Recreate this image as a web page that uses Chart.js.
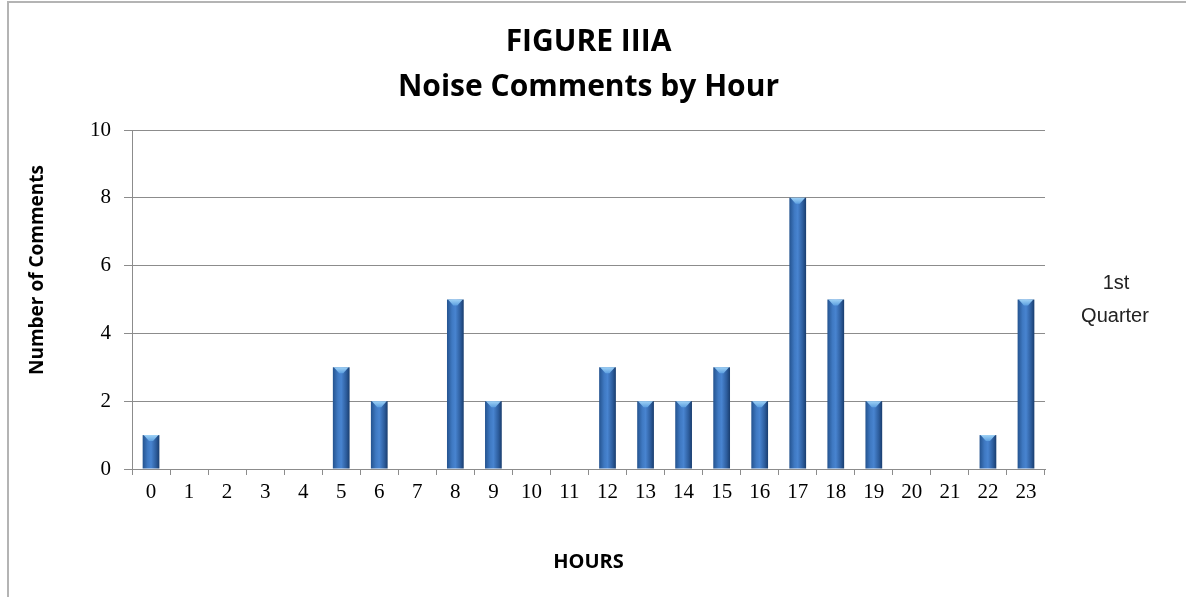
<!DOCTYPE html>
<html lang="en">
<head>
  <meta charset="UTF-8">
  <title>Figure IIIA - Noise Comments by Hour</title>
  <script src="https://cdn.jsdelivr.net/npm/chart.js"></script>
  <style>
    html, body {
      margin: 0;
      padding: 0;
      background: #fff;
    }
    #wrap {
      width: 1186px;
      height: 597px;
      position: relative;
    }
  </style>
</head>
<body>
  <div id="wrap">
    <canvas id="chart"></canvas>
  </div>

  <script>
    // data
    const hours = ['0','1','2','3','4','5','6','7','8','9','10','11','12','13','14','15','16','17','18','19','20','21','22','23'];
    const comments = [1, 0, 0, 0, 0, 3, 2, 0, 5, 2, 0, 0, 3, 2, 2, 3, 2, 8, 5, 2, 0, 0, 1, 5];
    const seriesName = ['1st', 'Quarter'];
    const titleLines = ['FIGURE IIIA', 'Noise Comments by Hour'];
    const yTitle = 'Number of Comments';
    const xTitle = 'HOURS';

    const BAR_PCT = 0.44;

    // horizontal shading across each bar, like the old office 3d look
    function barFill(ctx) {
      const chart = ctx.chart;
      const xs = chart.scales.x;
      if (!xs || ctx.dataIndex === undefined) return '#2f65ad';
      const cx = xs.getPixelForValue(ctx.dataIndex);
      const w = (xs.width / hours.length) * BAR_PCT;
      if (!isFinite(cx) || !isFinite(w) || w <= 0) return '#2f65ad';
      const g = chart.ctx.createLinearGradient(cx - w / 2, 0, cx + w / 2, 0);
      g.addColorStop(0, '#24538f');
      g.addColorStop(0.3, '#3f79c2');
      g.addColorStop(0.5, '#4884d0');
      g.addColorStop(0.8, '#2d5d9d');
      g.addColorStop(1, '#193d6e');
      return g;
    }

    const decor = {
      id: 'decor',
      beforeDraw(chart) {
        const c = chart.ctx;
        c.save();
        c.fillStyle = '#fff';
        c.fillRect(0, 0, chart.width, chart.height);
        // frame (left + top edge visible)
        c.strokeStyle = '#b4b4b4';
        c.lineWidth = 2;
        c.beginPath();
        c.moveTo(8, chart.height);
        c.lineTo(8, 2);
        c.lineTo(chart.width, 2);
        c.stroke();
        c.restore();
      },
      afterDatasetsDraw(chart) {
        const c = chart.ctx;
        const meta = chart.getDatasetMeta(0);
        c.save();
        meta.data.forEach((bar, i) => {
          if (!comments[i]) return;
          const { x, y, width } = bar.getProps(['x', 'y', 'width'], true);
          if (!isFinite(x) || !isFinite(y)) return;
          const l = x - width / 2, r = x + width / 2;
          const g = c.createLinearGradient(0, y, 0, y + 6);
          g.addColorStop(0, '#9fd2f6');
          g.addColorStop(1, '#5c9fe0');
          c.fillStyle = g;
          c.beginPath();
          c.moveTo(l + 1, y);
          c.lineTo(r - 1, y);
          c.lineTo(x + 2, y + 6);
          c.lineTo(x - 2, y + 6);
          c.closePath();
          c.fill();
        });
        c.restore();
      },
      afterDraw(chart) {
        const c = chart.ctx;
        c.save();
        // y axis title, sits a bit above centre in the original
        c.translate(38, 270);
        c.rotate(-Math.PI / 2);
        c.font = 'bold 19px "Open Sans"';
        c.fillStyle = '#000';
        c.textAlign = 'center';
        c.textBaseline = 'middle';
        c.fillText(yTitle, 0, 0);
        c.restore();

        // series label on the right
        c.save();
        c.font = '20px "Liberation Sans"';
        c.fillStyle = '#222';
        c.textAlign = 'center';
        c.textBaseline = 'middle';
        c.fillText(seriesName[0], 1116, 283);
        c.fillText(seriesName[1], 1115, 316);
        c.restore();
      }
    };

    new Chart(document.getElementById('chart'), {
      type: 'bar',
      data: {
        labels: hours,
        datasets: [{
          label: seriesName.join(' '),
          data: comments,
          backgroundColor: barFill,
          borderWidth: 0,
          barPercentage: BAR_PCT,
          categoryPercentage: 1
        }]
      },
      options: {
        responsive: true,
        maintainAspectRatio: false,
        animation: false,
        layout: { padding: { left: 0, right: 141, top: 0, bottom: 0 } },
        plugins: {
          legend: { display: false },
          tooltip: { enabled: false },
          title: {
            display: true,
            fullSize: false,
            text: titleLines,
            color: '#000',
            font: { family: '"Open Sans"', size: 30, weight: 'bold', lineHeight: 1.5 },
            padding: { top: 20, bottom: 20 }
          }
        },
        scales: {
          x: {
            offset: true,
            grid: {
              offset: true,
              drawOnChartArea: false,
              drawTicks: true,
              tickLength: 6,
              color: '#8c8c8c'
            },
            border: { color: '#8c8c8c', width: 1 },
            ticks: {
              color: '#000',
              padding: 5,
              maxRotation: 0,
              autoSkip: false,
              font: { family: '"Liberation Serif"', size: 21 }
            },
            title: {
              display: true,
              text: xTitle,
              color: '#000',
              font: { family: '"Open Sans"', size: 20, weight: 'bold' },
              padding: { top: 0, bottom: 23 }
            },
            afterFit(scale) { scale.height = 128; }
          },
          y: {
            min: 0,
            max: 10,
            ticks: {
              stepSize: 2,
              color: '#000',
              padding: 13,
              font: { family: '"Liberation Serif"', size: 21 }
            },
            grid: {
              color: '#8c8c8c',
              tickLength: 8
            },
            border: { color: '#8c8c8c', width: 1 },
            afterFit(scale) { scale.width = 132; }
          }
        }
      },
      plugins: [decor]
    });
  </script>
</body>
</html>
